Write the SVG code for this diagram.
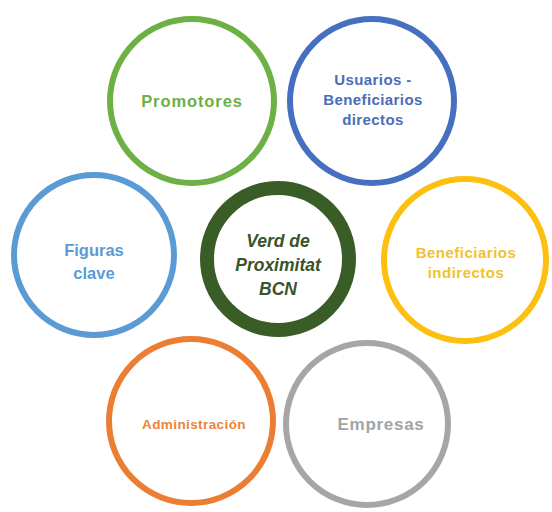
<svg xmlns="http://www.w3.org/2000/svg" width="552" height="512" viewBox="0 0 552 512">
<style>
.ring{fill:none;stroke-width:6}
.lbl{font-family:"Liberation Sans",Arial,sans-serif;font-weight:bold;text-anchor:middle}
</style>
<rect width="552" height="512" fill="#ffffff"/>
<g id="connectors"/>
<g id="promotores">
<circle class="ring" cx="192" cy="101" r="82" stroke="#6DB046"/>
<text class="lbl" x="192" y="107" font-size="16.5" letter-spacing="0.9" fill="#6DAF46">Promotores</text>
</g>
<g id="usuarios">
<circle class="ring" cx="372" cy="101" r="82" stroke="#4670BF"/>
<text class="lbl" font-size="15" letter-spacing="0.4" fill="#4A6DB8"><tspan x="373" y="85">Usuarios -</tspan><tspan x="373" y="105">Beneficiarios</tspan><tspan x="373" y="125">directos</tspan></text>
</g>
<g id="figuras">
<circle class="ring" cx="94" cy="255" r="80" stroke="#5B9BD5"/>
<text class="lbl" font-size="16.5" fill="#5B9BD5"><tspan x="94" y="256">Figuras</tspan><tspan x="94" y="279">clave</tspan></text>
</g>
<g id="centro">
<circle cx="278" cy="259" r="71" fill="none" stroke="#3A5D27" stroke-width="14"/>
<text class="lbl" font-size="17.5" font-style="italic" fill="#3A5428"><tspan x="278" y="247">Verd de</tspan><tspan x="278" y="271">Proximitat</tspan><tspan x="278" y="295">BCN</tspan></text>
</g>
<g id="indirectos">
<circle class="ring" cx="465" cy="260" r="81" stroke="#FDC010"/>
<text class="lbl" font-size="15" letter-spacing="0.5" fill="#F2C12E"><tspan x="466" y="258">Beneficiarios</tspan><tspan x="466" y="278">indirectos</tspan></text>
</g>
<g id="administracion">
<circle class="ring" cx="191" cy="421" r="82" stroke="#EC7E33"/>
<text class="lbl" x="194" y="429" font-size="13.5" letter-spacing="0.4" fill="#E8843C">Administración</text>
</g>
<g id="empresas">
<circle class="ring" cx="367" cy="424" r="81" stroke="#A6A6A6"/>
<text class="lbl" x="381" y="430" font-size="17" letter-spacing="0.7" fill="#A3A3A3">Empresas</text>
</g>
</svg>
